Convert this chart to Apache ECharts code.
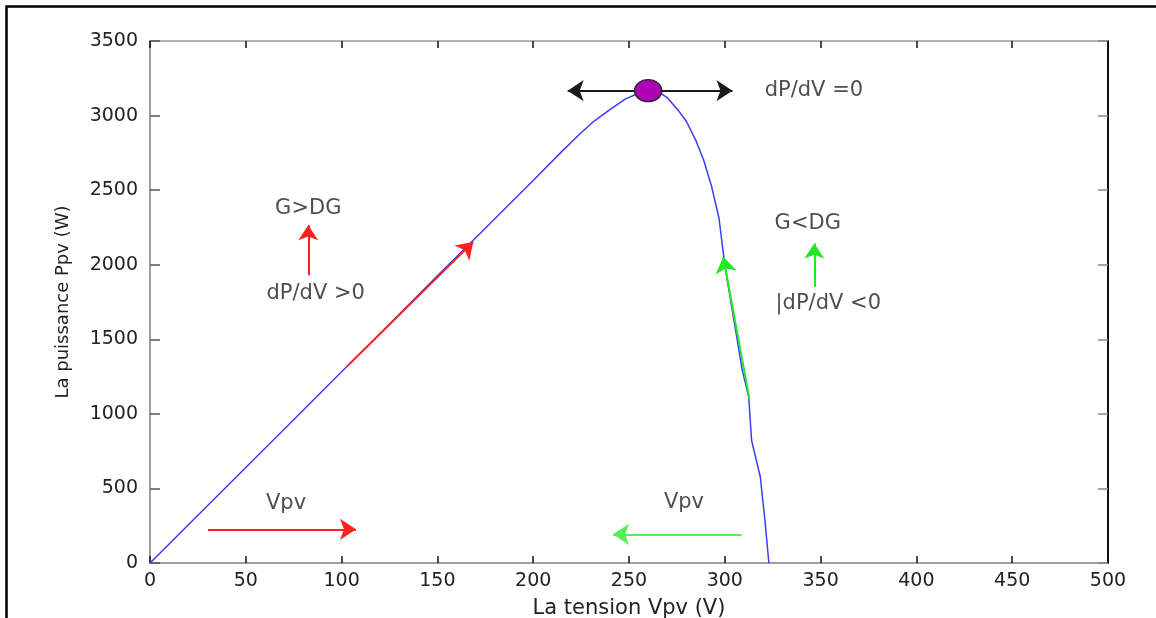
<!DOCTYPE html>
<html>
<head>
<meta charset="utf-8">
<script src="https://cdn.jsdelivr.net/npm/echarts@6/dist/echarts.min.js"></script>
<style>
html,body{margin:0;padding:0;background:#fff;}
#chart{width:1156px;height:618px;}
</style>
</head>
<body>
<div id="chart"></div>
<script>
// ---- data ----
const voltage = [0,10,25,50,75,100,125,150,175,200,215,225,232,240,248,255,260,265,270,276,280,285,289,293,297,299,301,305,309,312.5,314,318.5,321,323];
const power   = [0,128,320,640,960,1282,1603,1925,2245,2565,2760,2885,2965,3040,3110,3150,3170,3160,3120,3030,2960,2830,2700,2530,2310,2100,1920,1610,1300,1110,820,580,280,0];
const xTicks = [0,50,100,150,200,250,300,350,400,450,500];
const yTicks = [0,500,1000,1500,2000,2500,3000,3500];
const mppPoint = [260, 3167];
const redCurveArrow = [[103,1320],[168.7,2153]];
const greenCurveArrow = [[312.8,1104],[299.2,2053]];
const redHorizArrow = [[30.3,226],[107.5,226]];
const greenHorizArrow = [[308.8,192],[241.7,192]];
const redUpArrow = [[82.6,1930],[82.6,2265]];
const greenUpArrow = [[346.7,1852],[346.7,2143]];
const mppArrow = [[218,3167],[304,3167]];
const labelTexts = ['G>DG','dP/dV >0','G<DG','|dP/dV <0','dP/dV =0','Vpv','Vpv'];
const labelPos = [[82.6,2374],[86.5,1804],[343.3,2278],[354,1741],[346.5,3167],[71,396],[278.7,402]];
const xName = 'La tension Vpv (V)';
const yName = 'La puissance Ppv (W)';

const FONT = 'DejaVu Sans';
const TXT = '#222222';

function arrowSeries(coords, color, width, symbols, size, z) {
  return {
    type: 'lines', coordinateSystem: 'cartesian2d', xAxisIndex: 0, yAxisIndex: 0,
    polyline: false, silent: true, z: z || 3,
    symbol: symbols, symbolSize: size,
    lineStyle: { color: color, width: width, opacity: 1, curveness: 0 },
    data: [{ coords: coords }]
  };
}

const chart = echarts.init(document.getElementById('chart'), null, { renderer: 'canvas' });
const option = {
  animation: false,
  backgroundColor: '#fff',
  grid: { left: 150, right: 48, top: 41, bottom: 55, containLabel: false, outerBoundsMode: 'none' },
  xAxis: [
    {
      type: 'value', min: 0, max: 500, interval: 50, position: 'bottom',
      name: xName, nameLocation: 'middle', nameGap: 35,
      nameTextStyle: { fontFamily: FONT, fontSize: 21, color: TXT },
      axisLine: { show: true, onZero: false, lineStyle: { color: '#808080', width: 1.5 } },
      axisTick: { show: true, inside: true, length: 7, lineStyle: { color: '#111', width: 1.5 } },
      axisLabel: { fontFamily: FONT, fontSize: 19, color: TXT, margin: 9,
        formatter: v => xTicks.indexOf(v) >= 0 ? String(v) : '' },
      splitLine: { show: false }
    },
    {
      type: 'value', min: 0, max: 500, interval: 50, position: 'top',
      axisLine: { show: true, onZero: false, lineStyle: { color: '#9a9a9a', width: 1.5 } },
      axisTick: { show: true, inside: true, length: 7, lineStyle: { color: '#111', width: 1.5 } },
      axisLabel: { show: false }, splitLine: { show: false }
    }
  ],
  yAxis: [
    {
      type: 'value', min: 0, max: 3500, interval: 500, position: 'left',
      name: yName, nameLocation: 'middle', nameGap: 78, nameRotate: 90,
      nameTextStyle: { fontFamily: FONT, fontSize: 18, color: TXT },
      axisLine: { show: true, onZero: false, lineStyle: { color: '#808080', width: 1.5 } },
      axisTick: { show: true, inside: true, length: 10, lineStyle: { color: '#555', width: 1.5 } },
      axisLabel: { fontFamily: FONT, fontSize: 19, color: TXT, margin: 12,
        formatter: v => yTicks.indexOf(v) >= 0 ? String(v) : '' },
      splitLine: { show: false }
    },
    {
      type: 'value', min: 0, max: 3500, interval: 500, position: 'right',
      axisLine: { show: true, onZero: false, lineStyle: { color: '#111', width: 2 } },
      axisTick: { show: true, inside: true, length: 10, lineStyle: { color: '#888', width: 1.5 } },
      axisLabel: { show: false }, splitLine: { show: false }
    }
  ],
  series: [
    {
      type: 'line', xAxisIndex: 0, yAxisIndex: 0, silent: true, z: 2,
      data: voltage.map((v, i) => [v, power[i]]),
      showSymbol: false, symbol: 'none', smooth: false,
      lineStyle: { color: '#3c3cf5', width: 1.5 }
    },
    arrowSeries(redCurveArrow, '#ff2020', 2, ['none', 'arrow'], 16, 4),
    arrowSeries(greenCurveArrow, '#22e822', 2, ['none', 'arrow'], 16, 4),
    arrowSeries(redHorizArrow, '#ff2020', 2, ['none', 'arrow'], 16, 4),
    arrowSeries(greenHorizArrow, '#55ee55', 2, ['none', 'arrow'], 16, 4),
    arrowSeries(redUpArrow, '#ff2020', 2, ['none', 'arrow'], 15, 4),
    arrowSeries(greenUpArrow, '#22e822', 2, ['none', 'arrow'], 15, 4),
    arrowSeries(mppArrow, '#1a1a1a', 2, ['arrow', 'arrow'], 16, 4),
    {
      type: 'scatter', xAxisIndex: 0, yAxisIndex: 0, silent: true, z: 6,
      data: [mppPoint], symbol: 'circle', symbolSize: [27, 22],
      itemStyle: { color: '#b000b8', borderColor: '#2a2a2a', borderWidth: 1.5, opacity: 1 }
    },
    {
      type: 'scatter', xAxisIndex: 0, yAxisIndex: 0, silent: true, z: 7,
      symbolSize: 0,
      data: labelPos.map((p, i) => ({ value: p, name: labelTexts[i] })),
      label: {
        show: true, position: 'inside', formatter: p => p.name,
        fontFamily: FONT, fontSize: 21, color: TXT, align: 'center', verticalAlign: 'middle'
      }
    }
  ],
  graphic: [
    {
      type: 'polyline', silent: true, z: 100,
      shape: { points: [[6.5, 618], [6.5, 6.5], [1156, 6.5]] },
      style: { stroke: '#000', lineWidth: 2.5, fill: null }
    }
  ]
};
chart.setOption(option);
</script>
</body>
</html>
